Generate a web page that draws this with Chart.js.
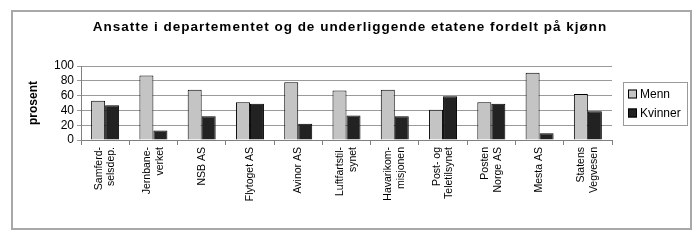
<!DOCTYPE html>
<html>
<head>
<meta charset="utf-8">
<script src="https://cdn.jsdelivr.net/npm/chart.js@4"></script>
<style>
  html, body { margin: 0; padding: 0; background: #fff; }
  #wrap { width: 700px; height: 248px; }
</style>
</head>
<body>
<div id="wrap"><canvas id="chart" width="700" height="248"></canvas></div>
<script>
const chartTitle = "Ansatte i departementet og de underliggende etatene fordelt på kjønn";
const categories = [
  ["Samferd-", "selsdep."],
  ["Jernbane-", "verket"],
  "NSB AS",
  "Flytoget AS",
  "Avinor AS",
  ["Luftfartstil-", "synet"],
  ["Havarikom-", "misjonen"],
  ["Post- og", "Teletilsynet"],
  ["Posten", "Norge AS"],
  "Mesta AS",
  ["Statens", "Vegvesen"]
];
const menn = [53, 87, 68, 51, 78, 67, 68, 41, 51, 91, 62];
const kvinner = [47, 13, 32, 49, 22, 33, 32, 59, 49, 9, 39];
const yTicks = [0, 20, 40, 60, 80, 100];

const fontFam = "'Liberation Sans', Arial, sans-serif";
Chart.defaults.font.family = fontFam;
Chart.defaults.color = "#000";

// frame, title and boxed legend
const framePlugin = {
  id: "frame",
  beforeDraw(chart) {
    const c = chart.ctx;
    c.save();
    c.fillStyle = "#fff";
    c.fillRect(0, 0, chart.width, chart.height);
    c.strokeStyle = "#a8a8a8";
    c.lineWidth = 2;
    c.strokeRect(12, 11, 679, 218);
    c.fillStyle = "#000";
    c.font = "bold 13.5px " + fontFam;
    c.letterSpacing = "1px";
    c.textAlign = "center";
    c.textBaseline = "middle";
    c.fillText(chartTitle, 350, 27.5);
    c.restore();

    // centre two-line x labels on their category
    const items = chart.scales.x.getLabelItems();
    items.forEach(it => {
      if (Array.isArray(it.label) && it.label.length > 1) {
        it.options.translation[0] -= 6.3;
      }
    });
  },
  afterDraw(chart) {
    const c = chart.ctx;
    c.save();
    c.strokeStyle = "#9a9a9a";
    c.lineWidth = 1;
    c.strokeRect(623.5, 82.5, 64, 43);
    c.font = "12px " + fontFam;
    c.textBaseline = "middle";
    chart.data.datasets.forEach((ds, i) => {
      const y = 94 + i * 19;
      c.fillStyle = ds.backgroundColor;
      c.fillRect(628, y - 4.5, 9, 9);
      c.strokeStyle = "#000";
      c.strokeRect(628.5, y - 4, 8, 8);
      c.fillStyle = "#000";
      c.fillText(ds.label, 640, y + 0.5);
    });
    c.restore();
  }
};

const ctx = document.getElementById("chart");

new Chart(ctx, {
  type: "bar",
  data: {
    labels: categories,
    datasets: [
      {
        label: "Menn",
        data: menn,
        backgroundColor: "#c4c4c4",
        borderColor: "#000",
        borderWidth: 1,
        categoryPercentage: 0.58,
        barPercentage: 1.0
      },
      {
        label: "Kvinner",
        data: kvinner,
        backgroundColor: "#222222",
        borderColor: "#000",
        borderWidth: 1,
        categoryPercentage: 0.58,
        barPercentage: 1.0
      }
    ]
  },
  options: {
    responsive: false,
    animation: false,
    layout: {
      padding: { left: 14, right: 88, top: 66, bottom: 20 }
    },
    plugins: {
      legend: { display: false },
      tooltip: { enabled: false },
      title: { display: false }
    },
    scales: {
      x: {
        grid: {
          offset: true,
          drawOnChartArea: false,
          drawTicks: true,
          tickLength: 5,
          color: "#808080"
        },
        border: { color: "#808080" },
        ticks: {
          font: { size: 10.5 },
          maxRotation: 90,
          minRotation: 90,
          padding: 2,
          autoSkip: false
        },
        afterFit(scale) { scale.height = 88; }
      },
      y: {
        min: 0,
        max: 100,
        afterBuildTicks(scale) { scale.ticks = yTicks.map(v => ({ value: v })); },
        grid: {
          color: "#9a9a9a",
          tickLength: 4
        },
        border: { color: "#808080" },
        ticks: {
          font: { size: 12 },
          padding: 3,
          autoSkip: false
        },
        title: {
          display: true,
          text: "prosent",
          font: { size: 12, weight: "bold" },
          padding: { top: 12, bottom: 0 }
        },
        afterFit(scale) { scale.width = 67; }
      }
    }
  },
  plugins: [framePlugin]
});
</script>
</body>
</html>
